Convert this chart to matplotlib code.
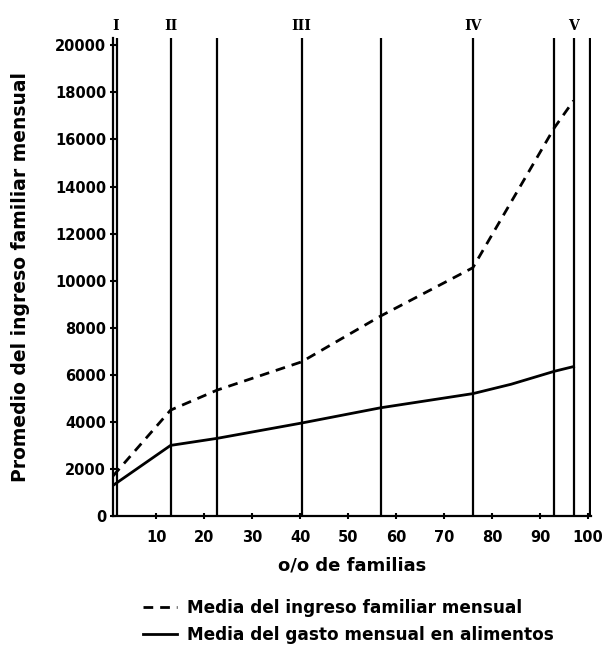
import matplotlib
matplotlib.use("Agg")
import matplotlib.pyplot as plt
from matplotlib import transforms

# Data
income_x = [1, 13, 22.7, 40.3, 56.8, 76, 93, 97]
income_y = [1700, 4500, 5350, 6550, 8500, 10550, 16500, 17650]
food_x = [1, 13, 22.7, 40.3, 56.8, 76, 84, 93, 97]
food_y = [1300, 3000, 3300, 3950, 4600, 5200, 5600, 6150, 6350]
boundaries = [1.9, 13, 22.7, 40.3, 56.8, 76, 93, 97, 100.4]
group_labels = ["I", "II", "III", "IV", "V"]
group_pos = [1.5, 13, 40.3, 76, 97]
x_ticks = [10, 20, 30, 40, 50, 60, 70, 80, 90, 100]
y_ticks = list(range(0, 20001, 2000))

plt.rcParams['font.family'] = ['DejaVu Sans']
fig = plt.figure(figsize=(6.06, 6.58), dpi=100)
ax = fig.add_axes([0.1865, 0.2158, 0.7885, 0.726])

ax.set_xlim(1, 100.6)
ax.set_ylim(0, 20300)

for b in boundaries:
    ax.axvline(b, color='black', lw=1.6, zorder=1)

l1, = ax.plot(income_x, income_y, color='black', lw=2.0, ls=(0, (3.5, 2.5)),
              label='Media del ingreso familiar mensual', zorder=3)
l2, = ax.plot(food_x, food_y, color='black', lw=2.0,
              label='Media del gasto mensual en alimentos', zorder=3)

for s in ['top', 'right']:
    ax.spines[s].set_visible(False)
for s in ['left', 'bottom']:
    ax.spines[s].set_linewidth(1.6)

ax.set_xticks(x_ticks)
ax.set_yticks(y_ticks)
ax.tick_params(axis='both', direction='inout', length=4, width=1.5,
               labelsize=10.5)
for lab in ax.get_xticklabels() + ax.get_yticklabels():
    lab.set_fontweight('bold')
ax.tick_params(axis='x', pad=8)
ax.tick_params(axis='y', pad=3)

trans = transforms.blended_transform_factory(ax.transData, ax.transAxes)
for lab, pos in zip(group_labels, group_pos):
    ax.text(pos, 1.012, lab, transform=trans, ha='center', va='bottom',
            fontsize=10, fontweight='bold', family='DejaVu Serif')

ax.set_ylabel('Promedio del ingreso familiar mensual', fontsize=13.5,
              fontweight='bold', labelpad=18)
ax.set_xlabel('o/o de familias', fontsize=13, fontweight='bold', labelpad=8)

fig.legend(handles=[l1, l2], loc='upper left', bbox_to_anchor=(0.225, 0.1),
           frameon=False, handlelength=2.0,
           prop={'weight': 'bold', 'size': 12.2}, labelspacing=0.55,
           borderaxespad=0, handletextpad=0.6)

fig.savefig('out.png', dpi=100)
